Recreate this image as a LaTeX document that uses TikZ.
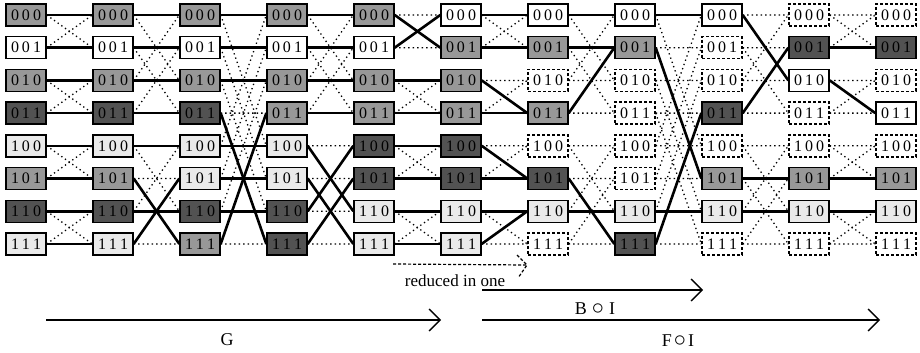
\documentclass[tikz,border=0pt]{standalone}
\usepackage{fontspec}
\setmainfont{Liberation Serif}
\usetikzlibrary{arrows.meta}

\definecolor{boxlight}{RGB}{234,234,234}
\definecolor{boxmid}{RGB}{152,152,152}
\definecolor{boxdark}{RGB}{82,82,82}

\tikzset{
  cell/.style={draw, line width=1.4pt, minimum width=40pt, minimum height=22pt,
    inner sep=0pt, font=\fontsize{16}{16}\selectfont},
  cellw/.style={cell, fill=white},
  celll/.style={cell, fill=boxlight},
  cellm/.style={cell, fill=boxmid},
  celld/.style={cell, fill=boxdark},
  cellx/.style={cell, fill=white, dash pattern=on 3pt off 2pt},
  link/.style={line width=2.6pt},
  nolink/.style={line width=1.3pt, dash pattern=on 1.3pt off 3.2pt},
  reduce/.style={line width=1.2pt, dash pattern=on 3pt off 2pt},
  flow/.style={line width=1.4pt, -{Straight Barb[length=11pt, width=22pt, line width=1.4pt]}},
  caption/.style={font=\fontsize{18}{18}\selectfont},
}

\begin{document}
\begin{tikzpicture}[x=1pt, y=-1pt]
\useasboundingbox (0,0) rectangle (920,353);

% stages of cells
\foreach \c/\fills in {1/{m,w,m,d,l,m,d,l}, 2/{m,w,m,d,l,m,d,l}, 3/{m,w,m,d,l,l,d,m},
    4/{m,w,m,m,l,l,d,d}, 5/{m,w,m,m,d,d,l,l}, 6/{w,m,m,m,d,d,l,l},
    7/{w,m,x,m,x,d,l,x}, 8/{w,m,x,x,x,x,l,d}, 9/{w,x,x,d,x,m,l,x},
    10/{x,d,w,x,x,m,l,x}, 11/{x,d,x,w,x,m,l,x}} {
  \foreach \f [count=\r from 0] in \fills {
    \pgfmathtruncatemacro\ba{floor(\r/4)}
    \pgfmathtruncatemacro\bb{mod(floor(\r/2),2)}
    \pgfmathtruncatemacro\bc{mod(\r,2)}
    \node[cell\f] (n\c-\r) at ({26+87*(\c-1)}, {15+32.7*\r}) {\ba\kern3pt\bb\kern3pt\bc};
  }
}

% all butterfly links, unused
\foreach \s/\m in {1/1,2/2,3/4,4/2,5/1,6/1,7/2,8/4,9/2,10/1} {
  \pgfmathtruncatemacro\t{\s+1}
  \foreach \r in {0,...,7} {
    \pgfmathtruncatemacro\j{\r+\m*(1-2*mod(floor(\r/\m),2))}
    \draw[nolink] (n\s-\r.east) -- (n\t-\r.west) (n\s-\r.east) -- (n\t-\j.west);
  }
}

% used links
\foreach \s/\a/\b [evaluate=\s as \t using int(\s+1)] in {
    1/0/0,1/1/1,1/2/2,1/3/3,1/4/4,1/5/5,1/6/6,1/7/7,
    2/0/0,2/1/1,2/2/2,2/3/3,2/4/4,2/5/7,2/6/6,2/7/5,
    3/0/0,3/1/1,3/2/2,3/3/7,3/4/4,3/5/5,3/6/6,3/7/3,
    4/0/0,4/1/1,4/2/2,4/3/3,4/4/6,4/5/7,4/6/4,4/7/5,
    5/0/1,5/1/0,5/2/2,5/3/3,5/4/4,5/5/5,5/6/6,5/7/7,
    6/0/0,6/1/1,6/2/3,6/3/3,6/4/5,6/5/5,6/6/6,6/7/6,
    7/0/0,7/1/1,7/3/1,7/5/7,7/6/6,
    8/0/0,8/1/5,8/6/6,8/7/3,
    9/0/2,9/3/1,9/5/5,9/6/6,
    10/1/1,10/2/3,10/5/5,10/6/6}
  \draw[link] (n\s-\a.east) -- (n\t-\b.west);

% reduction note
\coordinate (rs) at (393,264);
\coordinate (rt) at (527,265);
\draw[reduce] (rs) -- (rt);
\draw[reduce] ([shift={(-10,-10)}]rt) -- (rt) -- ++(-9,13);
\node[font=\fontsize{17}{17}\selectfont] (rlab) at (455,281) {reduced in one};

% phases
\coordinate (bs) at (482,290);
\coordinate (be) at (703,290);
\draw[flow] (bs) -- (be);
\node[caption] (blab) at (595,309) {B\hspace{5pt}\scalebox{1.4}{$\circ$}\hspace{5pt}I};

\coordinate (gs) at (46,320);
\coordinate (ge) at (441,320);
\draw[flow] (gs) -- (ge);
\node[caption] (glab) at (227,340) {G};

\coordinate (fs) at (482,320);
\coordinate (fe) at (880,320);
\draw[flow] (fs) -- (fe);
\node[caption] (flab) at (678,341) {F\hspace{2pt}\scalebox{1.4}{$\circ$}\hspace{2pt}I};
\end{tikzpicture}
\end{document}
